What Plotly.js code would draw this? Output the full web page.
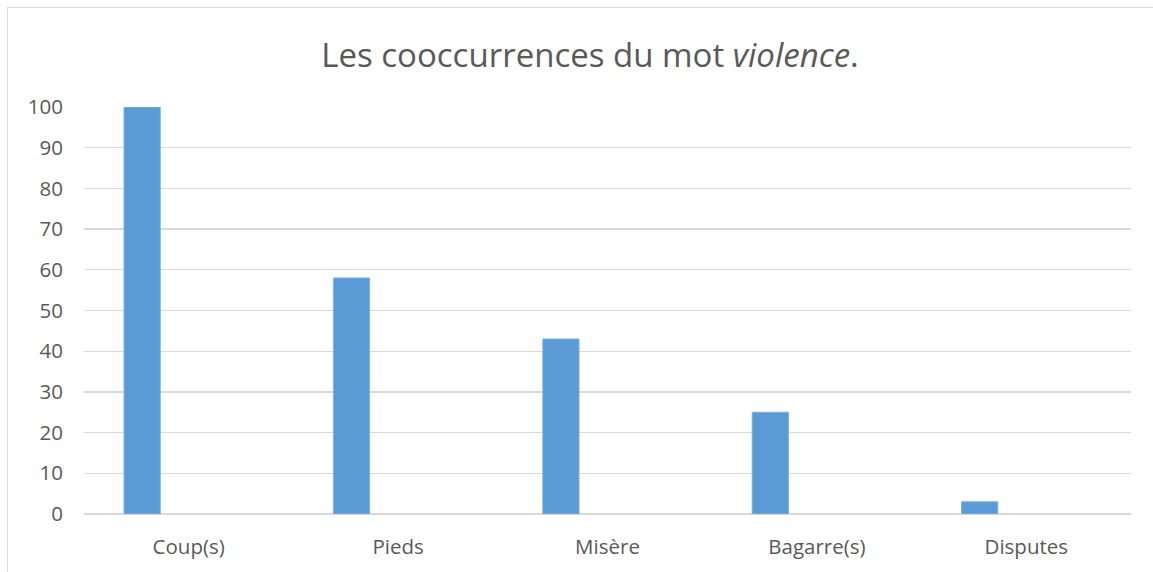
<!DOCTYPE html>
<html>
<head>
<meta charset="utf-8">
<script src="https://cdn.plot.ly/plotly-3.0.1.min.js"></script>
<style>
  html, body { margin: 0; padding: 0; background: #fff; }
  #wrap { position: relative; width: 1153px; height: 572px; overflow: hidden; }
  #chart { width: 1153px; height: 572px; }
  #frame { position: absolute; left: 7px; top: 7px; width: 1200px; height: 600px;
           border-left: 1.5px solid #d9d9d9; border-top: 1.5px solid #d9d9d9; pointer-events: none; }
</style>
</head>
<body>
<div id="wrap">
  <div id="chart"></div>
  <div id="frame"></div>
</div>
<script>
const categories = ["Coup(s)", "Pieds", "Misère", "Bagarre(s)", "Disputes"];
const values = [100, 58, 43, 25, 3];
const yTicks = [0, 10, 20, 30, 40, 50, 60, 70, 80, 90, 100];

const FONT = "Open Sans, Noto Sans, sans-serif";

const trace = {
  type: "bar",
  x: categories,
  y: values,
  width: 0.173,
  offset: -0.309,
  marker: { color: "#5b9bd5", line: { color: "#7fb1e0", width: 1 } },
  hoverinfo: "x+y"
};

const layout = {
  width: 1153,
  height: 572,
  paper_bgcolor: "#ffffff",
  plot_bgcolor: "#ffffff",
  margin: { l: 84, r: 22, t: 107, b: 58 },
  showlegend: false,
  title: {
    text: "Les cooccurrences du mot <i>violence</i>.",
    font: { family: FONT, size: 33, color: "#595959" },
    xref: "container", x: 590 / 1153, xanchor: "center",
    yref: "container", y: 1 - 55 / 572, yanchor: "middle"
  },
  xaxis: {
    type: "category",
    showgrid: false,
    showline: false,
    zeroline: false,
    ticks: "",
    ticklabelstandoff: 18,
    tickfont: { family: FONT, size: 20.5, color: "#595959" }
  },
  yaxis: {
    range: [0, 100],
    tickvals: yTicks,
    ticktext: yTicks.map(String),
    showgrid: true,
    gridcolor: "#d9d9d9",
    gridwidth: 1.3,
    zeroline: true,
    zerolinecolor: "#d9d9d9",
    zerolinewidth: 1.3,
    showline: false,
    ticks: "",
    ticklabelstandoff: 20,
    tickfont: { family: FONT, size: 20.5, color: "#595959" }
  }
};

Plotly.newPlot("chart", [trace], layout, { displayModeBar: false, staticPlot: true });
</script>
</body>
</html>
